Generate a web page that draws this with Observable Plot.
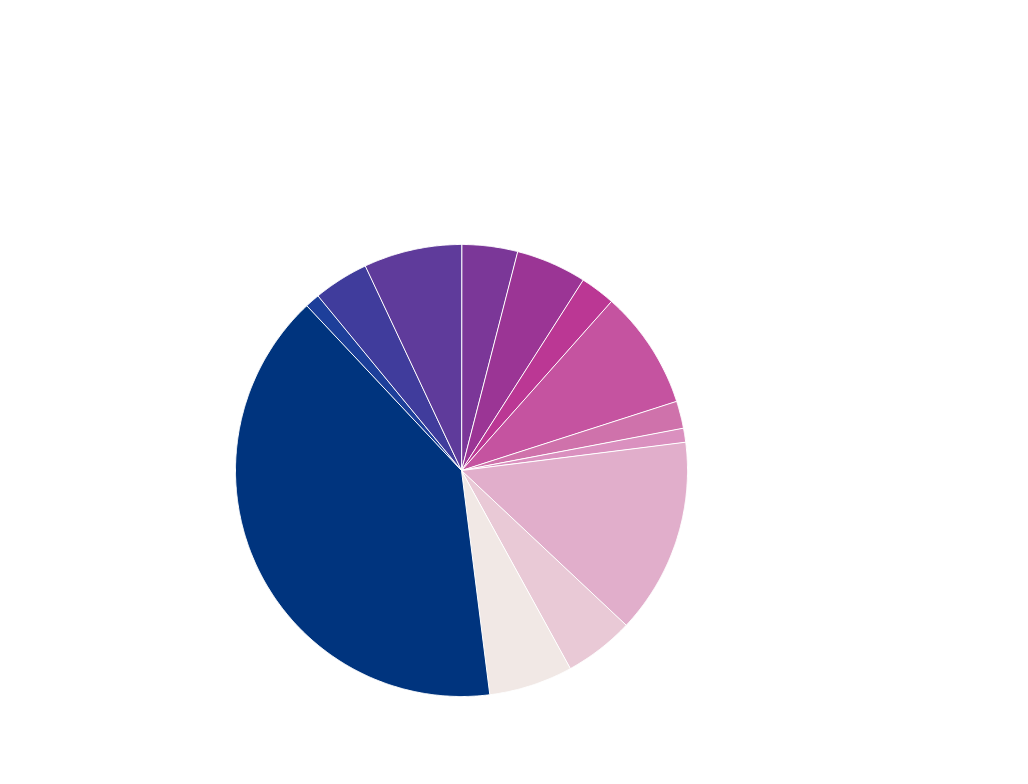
<!DOCTYPE html>
<html>
<head>
<meta charset="utf-8">
<script src="https://cdn.jsdelivr.net/npm/d3@7"></script>
<script src="https://cdn.jsdelivr.net/npm/@observablehq/plot@0.6"></script>
<style>
  html, body { margin: 0; padding: 0; background: #ffffff; }
  #chart { width: 1028px; height: 784px; }
</style>
</head>
<body>
<div id="chart"></div>
<script>
const categories = ["S1","S2","S3","S4","S5","S6","S7","S8","S9","S10","S11","S12","S13"];
const values = [4.0, 5.05, 2.5, 8.5, 1.95, 1.0, 14.0, 5.0, 6.0, 40.0, 1.05, 3.95, 7.0];
const colors = ["#7b3798","#9b3595","#bb3794","#c553a0","#cf72ab","#da90bf","#e1aecb","#e9c9d6","#f1e8e5","#00347e","#1d3f9a","#403c9c","#5f3b9b"];

// Build slice outlines (unit circle) from the values via d3.pie
const arcs = d3.pie().sort(null).value(d => d.value)(categories.map((c, i) => ({cat: c, value: values[i]})));
const pts = [];
for (const a of arcs) {
  const cat = a.data.cat;
  pts.push({cat, x: 0, y: 0});
  const n = Math.max(2, Math.ceil((a.endAngle - a.startAngle) / 0.005));
  for (let k = 0; k <= n; k++) {
    const t = a.startAngle + (a.endAngle - a.startAngle) * k / n;
    pts.push({cat, x: Math.sin(t), y: Math.cos(t)});
  }
}

const chart = Plot.plot({
  width: 1028,
  height: 784,
  margin: 0,
  x: {domain: [-1, 1], range: [235, 687], axis: null},
  y: {domain: [-1, 1], range: [696, 244], axis: null},
  color: {domain: categories, range: colors},
  marks: [
    Plot.line(pts, {x: "x", y: "y", z: "cat", fill: "cat", stroke: "white", strokeWidth: 1, strokeLinejoin: "round", curve: "linear-closed"})
  ]
});
document.getElementById("chart").append(chart);
</script>
</body>
</html>
